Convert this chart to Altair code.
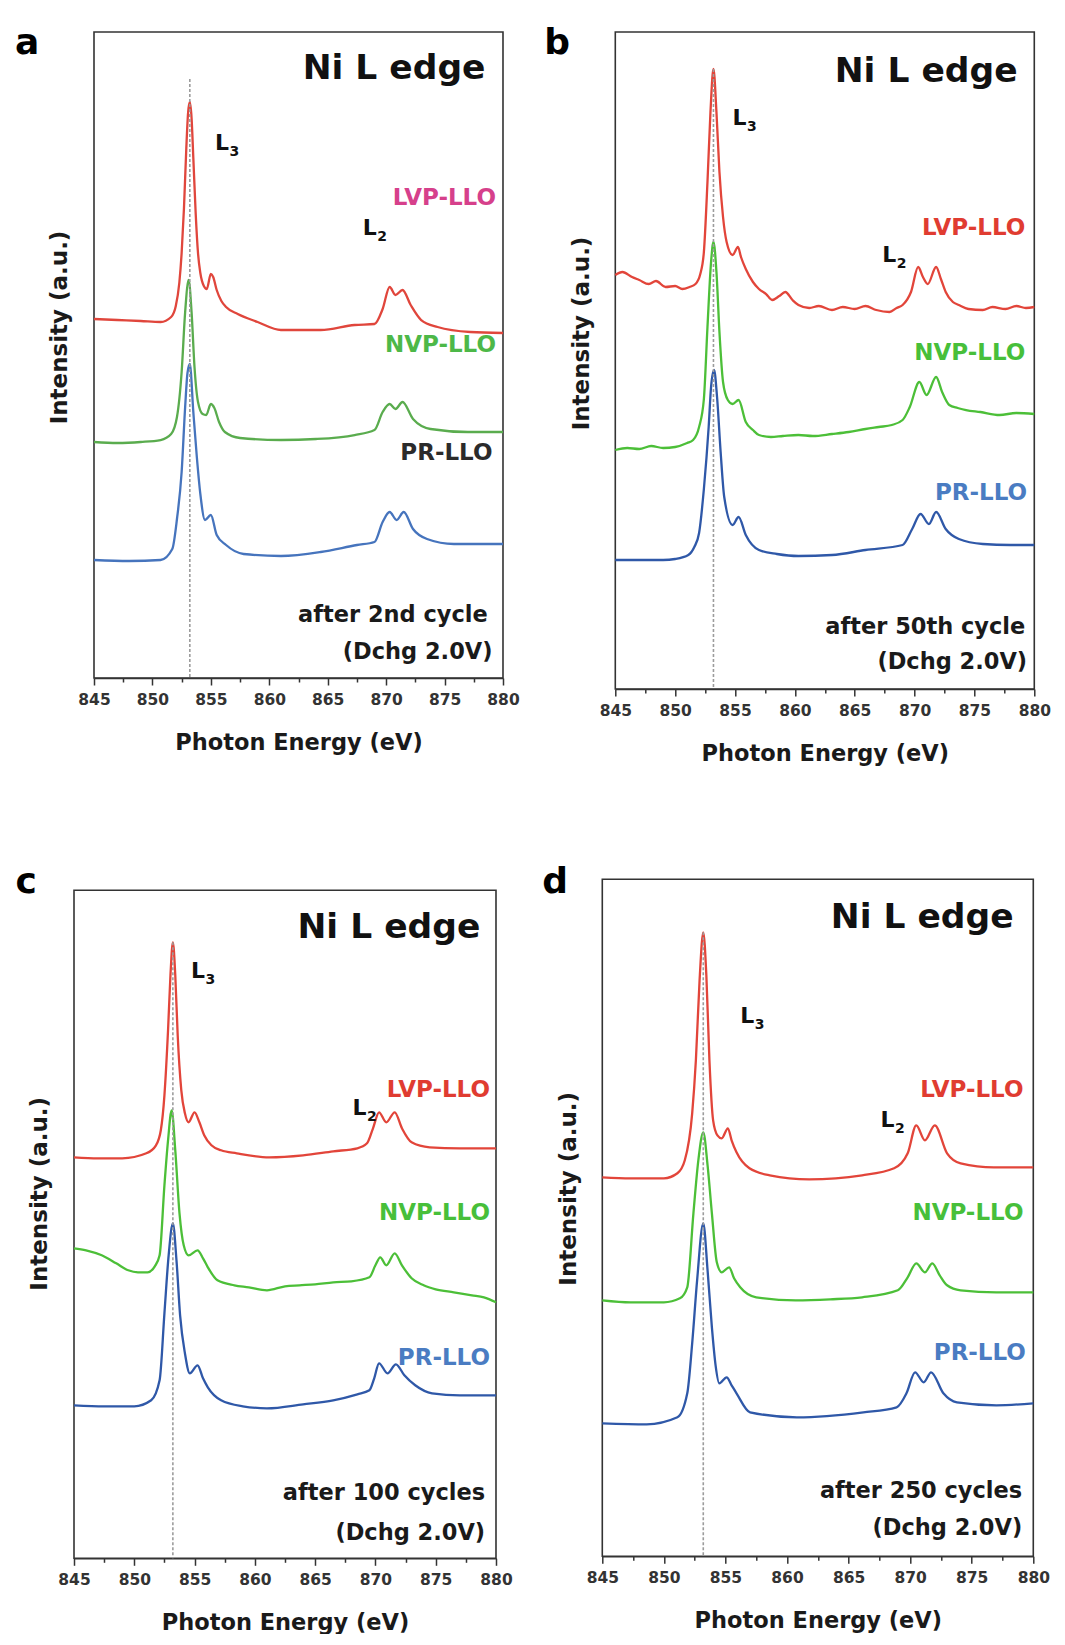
import altair as alt
import pandas as pd

FONT = "DejaVu Sans"
PEAK_E = 853.2

# ---------------- Panel a : after 2nd cycle ----------------
A_LVP_E = [845.0, 847.0, 849.0, 850.7, 851.6, 852.0, 852.3, 852.5, 852.7, 852.9, 853.05, 853.2, 853.35, 853.5, 853.7, 853.9, 854.1, 854.4, 854.65, 855.0, 855.2, 855.5, 855.9, 856.3, 857.3, 859.0, 861.0, 864.4, 867.3, 869.0, 869.7, 870.3, 870.8, 871.4, 872.1, 873.0, 874.4, 877.2, 880.0]
A_LVP_I = [359, 358, 357, 356, 361, 372, 395, 425, 470, 530, 565, 576, 560, 520, 465, 425, 405, 392, 389, 404, 401, 388, 377, 371, 364, 356, 348, 348, 353, 354, 369, 391, 383, 388, 373, 358, 351, 346, 345]
A_NVP_E = [845.0, 847.0, 849.0, 850.7, 851.6, 852.1, 852.5, 852.8, 853.1, 853.35, 853.6, 853.9, 854.3, 854.6, 855.0, 855.3, 855.7, 856.2, 857.5, 861.0, 864.0, 867.3, 869.0, 869.7, 870.3, 870.8, 871.4, 872.3, 873.8, 877.0, 880.0]
A_NVP_I = [236, 235, 236, 238, 244, 261, 306, 366, 398, 366, 311, 276, 264, 263, 274, 270, 256, 246, 240, 238, 239, 243, 248, 266, 274, 269, 276, 259, 249, 246, 246]
A_PR_E = [845.0, 848.0, 850.7, 851.7, 852.1, 852.5, 852.8, 853.0, 853.2, 853.5, 853.8, 854.1, 854.5, 855.0, 855.5, 856.3, 857.8, 861.0, 864.4, 867.5, 869.0, 869.7, 870.3, 870.9, 871.5, 872.3, 873.5, 875.8, 880.0]
A_PR_I = [118, 117, 118, 129, 159, 206, 271, 305, 314, 266, 221, 184, 158, 163, 143, 133, 124, 122, 126, 133, 136, 156, 166, 158, 166, 149, 139, 134, 134]

# ---------------- Panel b : after 50th cycle ----------------
B_LVP_E = [845.0, 845.6, 846.4, 847.0, 847.8, 848.4, 849.2, 850.0, 850.6, 851.2, 851.7, 852.1, 852.4, 852.7, 852.95, 853.2, 853.45, 853.7, 854.0, 854.3, 854.8, 855.25, 855.5, 855.9, 856.5, 857.0, 857.6, 858.1, 858.7, 859.2, 859.8, 860.3, 861.2, 862.0, 863.1, 864.0, 865.0, 865.9, 866.8, 867.9, 868.5, 869.0, 869.7, 870.3, 870.7, 871.1, 871.8, 872.2, 872.6, 873.2, 873.7, 874.5, 875.7, 876.5, 877.6, 878.5, 879.3, 880.0]
B_LVP_I = [414, 417, 412, 409, 405, 408, 402, 403, 400, 402, 405, 415, 437, 507, 577, 620, 577, 517, 472, 447, 434, 442, 432, 420, 407, 400, 395, 389, 393, 397, 389, 384, 381, 383, 379, 382, 380, 383, 379, 377, 381, 384, 397, 422, 412, 405, 422, 410, 397, 387, 384, 380, 379, 382, 380, 383, 381, 382]
B_NVP_E = [845.0, 846.0, 847.0, 848.0, 849.0, 850.0, 851.0, 851.5, 852.0, 852.4, 852.7, 853.0, 853.2, 853.45, 853.7, 854.0, 854.4, 854.8, 855.3, 855.9, 856.5, 857.0, 858.0, 859.0, 860.3, 861.5, 863.1, 864.5, 865.9, 867.0, 868.1, 869.0, 869.6, 870.4, 871.0, 871.8, 872.3, 872.9, 873.6, 874.3, 875.5, 877.1, 878.5, 880.0]
B_NVP_I = [239, 241, 240, 243, 241, 242, 246, 249, 262, 290, 362, 427, 447, 417, 357, 307, 289, 285, 289, 267, 259, 254, 252, 253, 254, 253, 255, 257, 260, 262, 264, 269, 282, 307, 294, 312, 297, 284, 281, 279, 277, 274, 276, 275]
B_PR_E = [845.0, 847.0, 849.0, 850.0, 851.1, 851.6, 852.0, 852.4, 852.8, 853.0, 853.25, 853.5, 853.8, 854.1, 854.8, 855.3, 855.9, 857.0, 858.5, 860.3, 863.1, 865.9, 869.0, 869.8, 870.5, 871.2, 871.8, 872.6, 873.7, 875.7, 878.0, 880.0]
B_PR_I = [129, 129, 129, 130, 134, 142, 156, 200, 262, 302, 319, 292, 237, 192, 164, 172, 154, 139, 135, 133, 134, 139, 144, 160, 175, 165, 177, 160, 150, 145, 144, 144]

# ---------------- Panel c : after 100 cycles ----------------
C_LVP_E = [845.0, 847.0, 849.0, 851.0, 851.8, 852.2, 852.5, 852.8, 853.0, 853.2, 853.4, 853.6, 853.9, 854.2, 854.5, 855.0, 855.4, 855.8, 856.4, 857.2, 858.5, 861.2, 864.0, 866.5, 868.5, 869.3, 869.8, 870.3, 870.9, 871.6, 872.2, 873.0, 874.5, 877.0, 880.0]
C_LVP_I = [401, 400, 400, 405, 413, 428, 463, 528, 583, 616, 583, 523, 468, 445, 436, 446, 436, 423, 413, 408, 405, 401, 403, 407, 410, 415, 430, 446, 436, 446, 430, 416, 411, 410, 410]
C_NVP_E = [845.0, 846.0, 847.3, 848.5, 849.5, 850.3, 851.1, 851.7, 852.1, 852.5, 852.8, 853.1, 853.4, 853.75, 854.1, 854.5, 855.25, 855.7, 856.1, 856.9, 858.3, 859.5, 861.0, 862.5, 863.7, 865.0, 866.5, 868.0, 869.5, 870.0, 870.4, 870.9, 871.6, 872.2, 873.0, 874.0, 875.0, 876.5, 878.0, 879.0, 880.0]
C_NVP_I = [310, 308, 303, 295, 288, 286, 286, 292, 303, 373, 418, 448, 408, 345, 313, 303, 308, 300, 291, 278, 273, 271, 268, 272, 273, 274, 276, 277, 281, 293, 301, 293, 305, 293, 280, 273, 269, 266, 263, 261, 256]
C_PR_E = [845.0, 847.5, 850.0, 851.4, 852.1, 852.5, 852.85, 853.2, 853.5, 853.8, 854.2, 854.6, 855.25, 855.7, 856.1, 857.2, 859.0, 861.0, 864.0, 866.5, 868.5, 869.5, 869.9, 870.3, 871.0, 871.7, 872.4, 873.3, 874.7, 877.0, 880.0]
C_PR_I = [153, 152, 152, 158, 178, 245, 303, 335, 298, 243, 205, 185, 193, 180, 171, 158, 152, 150, 154, 158, 164, 168, 180, 195, 185, 194, 183, 173, 165, 163, 163]

# ---------------- Panel d : after 250 cycles ----------------
D_LVP_E = [845.0, 847.3, 850.0, 851.1, 851.7, 852.3, 852.6, 852.9, 853.2, 853.45, 853.7, 854.0, 854.35, 854.7, 855.2, 855.5, 855.9, 856.95, 858.6, 861.8, 866.1, 868.7, 869.8, 870.5, 871.2, 872.0, 873.0, 874.1, 876.8, 880.0]
D_LVP_I = [379, 378, 378, 383, 396, 443, 496, 576, 624, 581, 496, 436, 421, 418, 428, 416, 404, 388, 381, 377, 381, 388, 403, 431, 416, 431, 403, 393, 389, 389]
D_NVP_E = [845.0, 847.3, 850.0, 851.3, 851.9, 852.4, 852.8, 853.2, 853.55, 853.9, 854.3, 854.7, 855.3, 855.7, 856.2, 857.5, 860.7, 863.5, 866.1, 869.0, 869.8, 870.5, 871.2, 871.8, 872.4, 873.0, 874.1, 877.0, 880.0]
D_NVP_I = [256, 254, 254, 258, 269, 343, 396, 424, 391, 343, 294, 284, 289, 278, 269, 259, 256, 257, 259, 266, 279, 293, 284, 293, 281, 271, 266, 264, 264]
D_PR_E = [845.0, 848.6, 851.1, 851.9, 852.3, 852.7, 853.2, 853.55, 853.9, 854.2, 854.5, 855.1, 855.5, 855.9, 857.0, 860.8, 866.2, 868.9, 869.7, 870.4, 871.1, 871.7, 872.7, 873.8, 877.0, 880.0]
D_PR_I = [133, 132, 139, 163, 213, 276, 333, 286, 229, 191, 173, 179, 171, 163, 144, 139, 144, 149, 163, 184, 174, 184, 163, 154, 151, 153]

# ---------------- labels ----------------
X_TICKS = [845, 847.5, 850, 852.5, 855, 857.5, 860, 862.5, 865, 867.5, 870, 872.5, 875, 877.5, 880]
SAMPLES = ["LVP-LLO", "NVP-LLO", "PR-LLO"]
CYCLE_TEXT = {"a": "after 2nd cycle", "b": "after 50th cycle", "c": "after 100 cycles", "d": "after 250 cycles"}
DCHG_TEXT = "(Dchg 2.0V)"
EDGE_TEXT = "Ni L edge"

# annotation anchors (energy, intensity) per panel; "pad" is an empty layout anchor
ANN = {
    "a": {"title": (878.5, 599), "L3": (855.35, 528), "L2": (868.0, 443), "lvp": (879.4, 473), "nvp": (879.4, 326),
          "pr": (879.1, 218), "cyc": (878.7, 56), "dchg": (879.1, 19), "letter": (838.24, 652), "dash": 599},
    "b": {"title": (878.6, 607), "L3": (854.8, 564), "L2": (867.3, 427), "lvp": (879.25, 454), "nvp": (879.25, 329),
          "pr": (879.4, 189), "cyc": (879.25, 55), "dchg": (879.4, 20), "letter": (839.07, 663), "dash": 620},
    "c": {"title": (878.7, 620), "L3": (854.7, 580), "L2": (868.1, 443), "lvp": (879.5, 461), "nvp": (879.5, 338),
          "pr": (879.5, 193), "cyc": (879.1, 58), "dchg": (879.1, 18), "letter": (840.15, 693.7), "dash": 616},
    "d": {"title": (878.4, 628), "L3": (856.2, 533), "L2": (867.6, 429), "lvp": (879.2, 459), "nvp": (879.2, 336),
          "pr": (879.4, 196), "cyc": (879.1, 58), "dchg": (879.1, 21), "letter": (840.13, 691.7), "dash": 624,
          "pad": (838.69, 691.7)},
}

CURVES = {
    "a": [(A_LVP_E, A_LVP_I), (A_NVP_E, A_NVP_I), (A_PR_E, A_PR_I)],
    "b": [(B_LVP_E, B_LVP_I), (B_NVP_E, B_NVP_I), (B_PR_E, B_PR_I)],
    "c": [(C_LVP_E, C_LVP_I), (C_NVP_E, C_NVP_I), (C_PR_E, C_PR_I)],
    "d": [(D_LVP_E, D_LVP_I), (D_NVP_E, D_NVP_I), (D_PR_E, D_PR_I)],
}

LINE_COLORS = {
    "a": ["#e0463c", "#5aac4e", "#4674bd"],
    "b": ["#e2453a", "#4cbf38", "#2f58a8"],
    "c": ["#e2453a", "#4cbf38", "#2f58a8"],
    "d": ["#e2453a", "#4cbf38", "#2f58a8"],
}
LABEL_COLORS = {
    "a": ["#d6408b", "#4db848", "#2b2b2b"],
    "b": ["#e03c31", "#47bf3a", "#4a7cc2"],
    "c": ["#e03c31", "#47bf3a", "#4a7cc2"],
    "d": ["#e03c31", "#47bf3a", "#4a7cc2"],
}

# panel sizes (plot area) and y-title centre offsets
SIZES = {"a": (409, 646), "b": (419, 657), "c": (422, 668), "d": (431, 677)}
YTITLE = {"a": 295, "b": 301, "c": 303, "d": 309}


def panel(key):
    w, h = SIZES[key]
    ann = ANN[key]
    xaxis = alt.Axis(
        values=X_TICKS, format="d", title="Photon Energy (eV)",
        labelExpr="datum.value % 5 == 0 ? datum.label : ''",
        tickSize={"condition": {"test": "datum.value % 5 == 0", "value": 7}, "value": 4},
        labelFlush=False, labelOverlap=False, grid=False,
        labelFont=FONT, labelFontSize=15.5, labelFontWeight="bold", labelColor="#333333", labelPadding=7,
        titleFont=FONT, titleFontSize=22.5, titleFontWeight="bold", titleColor="#1a1a1a", titlePadding=24,
        tickColor="#333333", tickWidth=1.5, domainColor="#333333", domainWidth=1.6,
    )
    yaxis = alt.Axis(
        title="Intensity (a.u.)", ticks=False, labels=False, domain=False, grid=False,
        titleFont=FONT, titleFontSize=23, titleFontWeight="bold", titleColor="#1a1a1a",
        titlePadding=22, titleY=YTITLE[key],
    )
    xs = alt.X("e:Q", scale=alt.Scale(domain=[845, 880], nice=False, zero=False), axis=xaxis)
    ys = alt.Y("v:Q", scale=alt.Scale(domain=[0, h], nice=False, zero=False), axis=yaxis)

    layers = []
    for (E, I), col in zip(CURVES[key], LINE_COLORS[key]):
        df = pd.DataFrame({"e": E, "v": I})
        layers.append(alt.Chart(df).mark_line(color=col, strokeWidth=2.3, interpolate="monotone")
                      .encode(x=xs, y=ys))

    dash_df = pd.DataFrame({"e": [PEAK_E], "v": [ann["dash"]], "v2": [0]})
    layers.append(alt.Chart(dash_df).mark_rule(color="#9c9c9c", strokeDash=[3, 2], strokeWidth=1.6)
                  .encode(x=xs, y=ys, y2="v2:Q"))

    def txt(rows, **mk):
        df = pd.DataFrame(rows, columns=["e", "v", "t"])
        return alt.Chart(df).mark_text(font=FONT, fontWeight="bold", **mk).encode(x=xs, y=ys, text="t:N")

    layers.append(txt([(*ann["title"], EDGE_TEXT)], fontSize=34.5, align="right", baseline="alphabetic", color="#111111"))
    layers.append(txt([(*ann["cyc"], CYCLE_TEXT[key]), (*ann["dchg"], DCHG_TEXT)],
                      fontSize=22.5, align="right", baseline="alphabetic", color="#1a1a1a"))
    layers.append(txt([(*ann["L3"], "L"), (*ann["L2"], "L")], fontSize=22, align="left", baseline="alphabetic", color="#111111"))
    layers.append(txt([(*ann["L3"], "3"), (*ann["L2"], "2")], fontSize=14, align="left", baseline="alphabetic",
                      dx=14.5, dy=6, color="#111111"))
    for name, k, col in zip(SAMPLES, ["lvp", "nvp", "pr"], LABEL_COLORS[key]):
        layers.append(txt([(*ann[k], name)], fontSize=23, align="right", baseline="alphabetic", color=col))
    letter_rows = [(*ann["letter"], key)]
    if "pad" in ann:
        letter_rows.append((*ann["pad"], " "))
    layers.append(txt(letter_rows, fontSize=36, align="left", baseline="top", color="#000000"))

    return alt.layer(*layers).properties(width=w, height=h)


def spacer():
    # empty 1x1 cell so that the left-hand panels can start at their own offsets
    return alt.Chart(pd.DataFrame({"s": [0]})).mark_point(size=0, opacity=0).encode(
        x=alt.value(0), y=alt.value(0)
    ).properties(width=1, height=1, view=alt.ViewBackground(stroke="transparent"))


chart = alt.concat(
    spacer(), panel("a"), panel("b"),
    spacer(), panel("c"), panel("d"),
    columns=3, spacing={"row": 96.3, "column": 10.3}, align="none",
).properties(
    padding={"left": -7.3, "top": 16, "right": 0, "bottom": -2},
    background="white",
).configure_view(
    stroke="#333333", strokeWidth=1.6
)

chart.save("out.html", embed_options={"renderer": "svg", "actions": False})
